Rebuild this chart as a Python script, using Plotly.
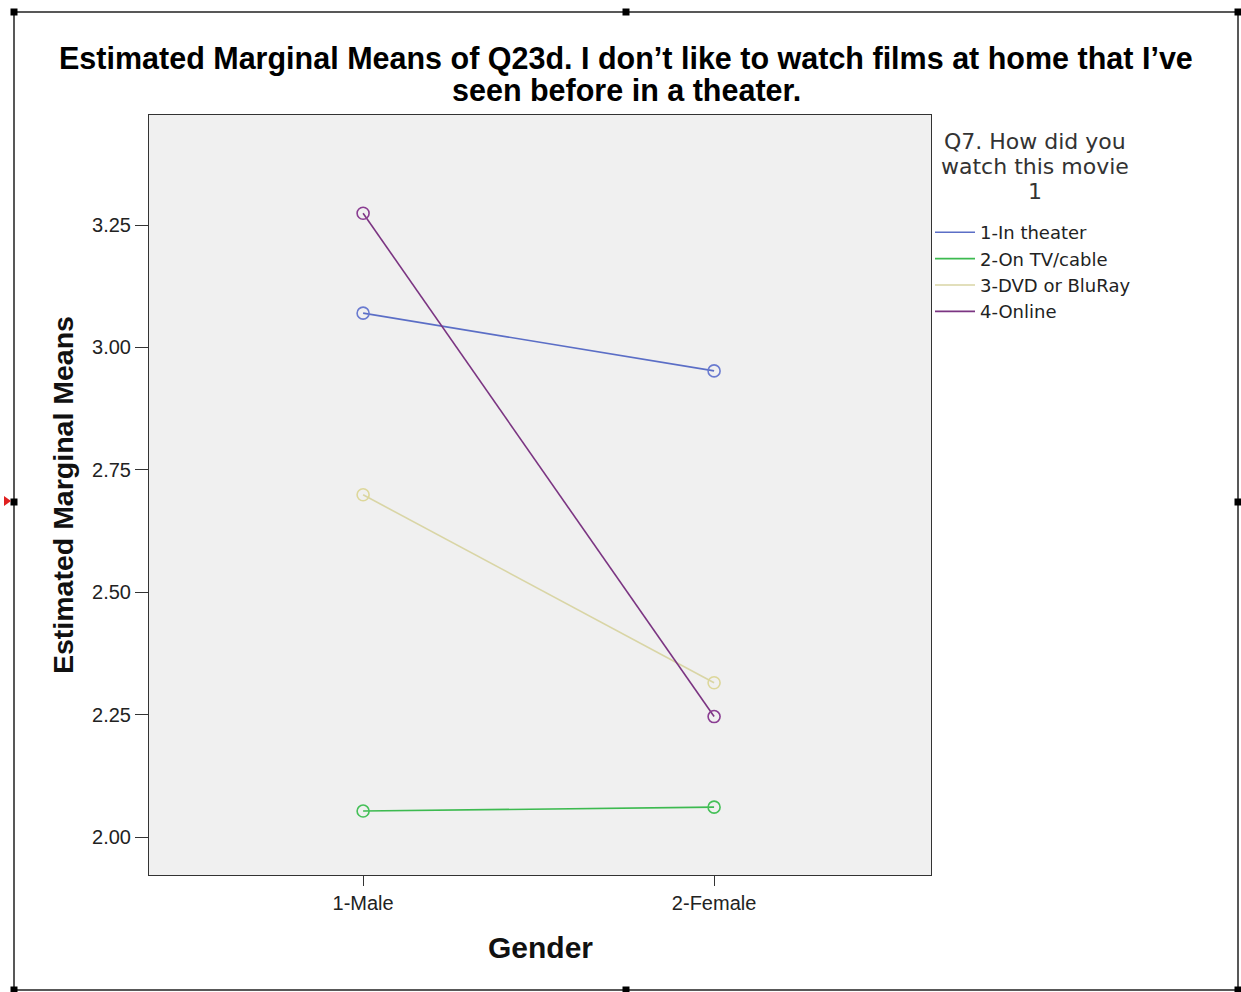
import plotly.graph_objects as go

# ---- data ----
genders = ["1-Male", "2-Female"]
series_names = ["1-In theater", "2-On TV/cable", "3-DVD or BluRay", "4-Online"]
theater = [3.070, 2.952]
tv_cable = [2.053, 2.061]
dvd = [2.699, 2.315]
online = [3.274, 2.246]
y_ticks = [2.00, 2.25, 2.50, 2.75, 3.00, 3.25]
y_tick_labels = ["2.00", "2.25", "2.50", "2.75", "3.00", "3.25"]
title_lines = ["Estimated Marginal Means of Q23d. I don\u2019t like to watch films at home that I\u2019ve",
               "seen before in a theater."]
legend_title_lines = ["Q7. How did you", "watch this movie", "1"]

series_values = [theater, tv_cable, dvd, online]
line_colors = ["#5b6ec6", "#3dba50", "#d9d5a5", "#7b3582"]
marker_colors = ["#6a7bd0", "#45c058", "#ddd79a", "#8a3d92"]

W, H = 1241, 992
L, R, T, B = 149, 931, 115, 875  # plot area in pixels


def px(x):
    return (x - L) / (R - L)


def py(y):
    return (B - y) / (B - T)


fig = go.Figure()
xpos = list(range(len(genders)))
for name, vals, lc, mc in zip(series_names, series_values, line_colors, marker_colors):
    fig.add_trace(go.Scatter(
        x=xpos, y=vals, name=name, mode="lines+markers", showlegend=False,
        line=dict(color=lc, width=1.6),
        marker=dict(symbol="circle-open", size=12, color=mc, line=dict(width=1.6)),
    ))
# legend entries (line only, as in the reference)
for name, lc in zip(series_names, line_colors):
    fig.add_trace(go.Scatter(
        x=[None], y=[None], name=name, mode="lines",
        line=dict(color=lc, width=1.6), showlegend=True,
    ))

font = "Liberation Sans, Arial, sans-serif"

fig.update_layout(
    width=W, height=H,
    margin=dict(l=L, r=W - R, t=T, b=H - B, pad=0),
    paper_bgcolor="white",
    plot_bgcolor="#f0f0f0",
    showlegend=True,
    legend=dict(
        x=px(930), y=py(214), xanchor="left", yanchor="top",
        bgcolor="rgba(0,0,0,0)",
        font=dict(family="DejaVu Sans, sans-serif", size=18, color="#222"),
        itemwidth=40, tracegroupgap=0,
    ),
    xaxis=dict(
        range=[-0.61, 1.618], tickmode="array", tickvals=xpos, ticktext=genders,
        showgrid=False, zeroline=False,
        showline=True, linecolor="#333", linewidth=1, mirror=True,
        ticks="outside", ticklen=10, tickcolor="#333",
        tickfont=dict(family=font, size=20, color="#222"),
    ),
    yaxis=dict(
        range=[1.9224, 3.4747], tickmode="array", tickvals=y_ticks, ticktext=y_tick_labels,
        showgrid=False, zeroline=False,
        showline=True, linecolor="#333", linewidth=1, mirror=True,
        ticks="outside", ticklen=13, tickcolor="#333",
        tickfont=dict(family=font, size=20, color="#222"),
    ),
)

# chart title (two lines, tight spacing)
for line, cy in zip(title_lines, (59, 90)):
    fig.add_annotation(
        text=f"<b>{line}</b>", xref="paper", yref="paper",
        x=px(626), y=py(cy), xanchor="center", yanchor="middle",
        showarrow=False, font=dict(family=font, size=30.5, color="#000"),
    )

# axis titles
fig.add_annotation(
    text="<b>Estimated Marginal Means</b>", xref="paper", yref="paper",
    x=px(63), y=py(495), xanchor="center", yanchor="middle", textangle=-90,
    showarrow=False, font=dict(family=font, size=28.5, color="#111"),
)
fig.add_annotation(
    text="<b>Gender</b>", xref="paper", yref="paper",
    x=px(540), y=py(947), xanchor="center", yanchor="middle",
    showarrow=False, font=dict(family=font, size=30, color="#111"),
)

# legend title
for line, cy in zip(legend_title_lines, (141, 166, 191)):
    fig.add_annotation(
        text=line, xref="paper", yref="paper",
        x=px(1035), y=py(cy), xanchor="center", yanchor="middle",
        showarrow=False, font=dict(family="DejaVu Sans, sans-serif", size=22, color="#333"),
    )

# outer selection frame
fig.add_shape(type="rect", xref="paper", yref="paper",
              x0=px(14), x1=px(1238), y0=py(12), y1=py(990),
              line=dict(color="#222", width=1.5), fillcolor="rgba(0,0,0,0)", layer="above")
for hx in (14, 626, 1238):
    for hy in (12, 502, 990):
        if hx == 626 and hy == 502:
            continue
        fig.add_shape(type="rect", xref="paper", yref="paper",
                      x0=px(hx - 3.5), x1=px(hx + 3.5), y0=py(hy - 3.5), y1=py(hy + 3.5),
                      line=dict(color="#000", width=0), fillcolor="#000", layer="above")
fig.add_shape(type="path", xref="paper", yref="paper",
              path=f"M {px(4)} {py(496)} L {px(11)} {py(501)} L {px(4)} {py(506)} Z",
              line=dict(color="#e02020", width=0), fillcolor="#e02020", layer="above")

fig.write_html("out.html", post_script="document.body.style.margin='0';",
               config={"displayModeBar": False})
